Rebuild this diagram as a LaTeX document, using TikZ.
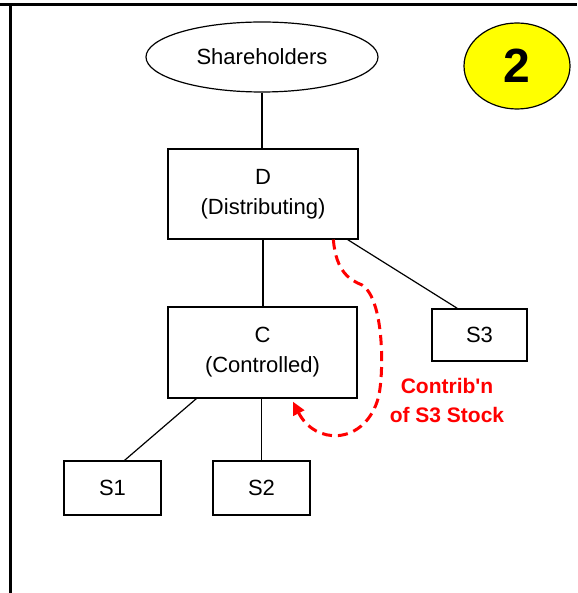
\documentclass[tikz,border=0pt]{standalone}
\usepackage{fontspec}
\newfontfamily\arial{Liberation Sans}
\usetikzlibrary{shapes.geometric,arrows.meta,calc}
\definecolor{contrib}{RGB}{255,0,0}
\definecolor{badge}{RGB}{255,255,0}
\tikzset{
  entity/.style={draw, line width=1.2pt, inner sep=0pt, align=center,
    font=\arial\fontsize{22}{30}\selectfont},
  link/.style={line width=1.2pt},
}
\begin{document}
\begin{tikzpicture}[x=1pt,y=-1pt]
\useasboundingbox (0,0) rectangle (577,593);
% page frame
\draw[line width=2.8pt] (0,4.7) -- (577,4.7);
\draw[line width=2.8pt] (10.7,4.7) -- (10.7,593);

% entities
\node[entity, ellipse, minimum width=232pt, minimum height=70pt] (sh) at (262,57) {Shareholders};
\node[entity, ellipse, fill=badge, minimum width=106pt, minimum height=86pt,
  font=\arial\bfseries\fontsize{48}{48}\selectfont] (badge) at (517,66) {2};
\node[entity, minimum width=190pt, minimum height=90pt] (D) at (263,194) {D\\(Distributing)};
\node[entity, minimum width=189pt, minimum height=91pt] (C) at (262.5,352.5) {C\\(Controlled)};
\node[entity, minimum width=95pt, minimum height=52pt] (S3) at (479.5,335) {S3};
\node[entity, minimum width=97pt, minimum height=54pt] (S1) at (112.5,488) {S1};
\node[entity, minimum width=97pt, minimum height=54pt] (S2) at (261.5,488) {S2};

% ownership lines
\draw[link] (sh.south) -- (sh.south |- D.north);
\draw[link] (D.south) -- (D.south |- C.north);
\draw[link] ($(D.south east)+(-11,0)$) -- ($(S3.north west)+(26,0)$);
\draw[link] ($(C.south west)+(29,0)$) -- ($(S1.north)+(12,0)$);
\draw[link] (C.south -| S2.north) -- (S2.north);

% contribution of S3 stock
\coordinate (cfrom) at ($(D.south west)!0.868!(D.south east)$);
\coordinate (cto) at ($(C.south west)!0.66!(C.south east)+(0,3)$);
\draw[contrib, line width=3pt, dash pattern=on 10pt off 6pt,
  -{Triangle[length=13pt,width=12pt]}]
  (cfrom) .. controls (336,272) and (350,280) .. (362,285)
  .. controls (386,300) and (384,385) .. (377,402)
  .. controls (362,445) and (315,445) .. (cto);
\node[text=contrib, align=center, font=\arial\bfseries\fontsize{21}{29}\selectfont]
  (lbl) at (447,401) {Contrib'n\\of S3 Stock};
\end{tikzpicture}
\end{document}
